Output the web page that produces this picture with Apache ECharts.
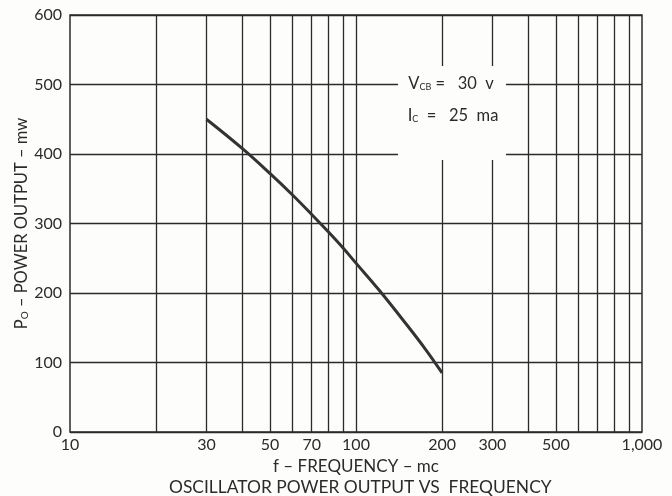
<!DOCTYPE html>
<html>
<head>
<meta charset="utf-8">
<script src="https://cdn.jsdelivr.net/npm/echarts@6/dist/echarts.min.js"></script>
<style>
html,body{margin:0;padding:0;background:#fdfdfc;}
#chart{width:672px;height:496px;}
</style>
</head>
<body>
<div id="chart"></div>
<script>
// Data
const freqMc = [30, 40, 50, 60, 70, 80, 90, 100, 120, 150, 175, 200];
const powerMw = [450, 408, 372, 341, 313, 288, 265, 243, 205, 155, 119, 85];
const gridFreqs = [20, 30, 40, 50, 60, 70, 80, 90, 100, 200, 300, 400, 500, 600, 700, 800, 900];
const labelFreqs = [10, 30, 50, 70, 100, 200, 300, 500, 1000];
const labelText = ['10', '30', '50', '70', '100', '200', '300', '500', '1,000'];

const INK = '#2b2b2b';
const BG = '#fdfdfc';
const FONT = 'Lato, "Noto Sans", sans-serif';

const chart = echarts.init(document.getElementById('chart'), null, {renderer: 'canvas'});

const markData = [];
gridFreqs.forEach(f => {
  markData.push({xAxis: f, label: {show: false}});
});
labelFreqs.forEach((f, i) => {
  markData.push({
    xAxis: f,
    lineStyle: {color: 'rgba(0,0,0,0)', width: 0},
    label: {show: true, formatter: labelText[i], color: INK}
  });
});

chart.setOption({
  backgroundColor: BG,
  animation: false,
  title: {
    text: 'OSCILLATOR POWER OUTPUT VS  FREQUENCY',
    left: 164,
    top: 474,
    textStyle: {fontFamily: FONT, fontSize: 17.4, fontWeight: 'normal', color: INK}
  },
  grid: {
    left: 70, right: 30, top: 15, bottom: 64,
    show: true, borderColor: INK, borderWidth: 1.5, backgroundColor: 'transparent'
  },
  xAxis: {
    type: 'log', logBase: 10, min: 10, max: 1000,
    name: 'f – FREQUENCY – mc',
    nameLocation: 'middle', nameGap: 26,
    nameTextStyle: {fontFamily: FONT, fontSize: 17, color: INK},
    axisLine: {show: false}, axisTick: {show: false},
    axisLabel: {show: false},
    splitLine: {show: false}, minorSplitLine: {show: false}
  },
  yAxis: {
    type: 'value', min: 0, max: 600, interval: 100,
    name: 'P{sub|O} – POWER OUTPUT – mw',
    nameLocation: 'middle', nameGap: 40, nameMoveOverlap: false,
    nameTextStyle: {
      fontFamily: FONT, fontSize: 16.5, color: INK,
      rich: {sub: {fontFamily: FONT, fontSize: 10, color: INK, verticalAlign: 'bottom', padding: [6, 0, 0, 0]}}
    },
    axisLine: {show: false}, axisTick: {show: false},
    axisLabel: {fontFamily: FONT, fontSize: 16, color: INK, margin: 8},
    splitLine: {show: true, lineStyle: {color: INK, width: 1.3}}
  },
  graphic: [
    {type: 'rect', z: 100, shape: {x: 398, y: 66, width: 108, height: 94}, style: {fill: BG}},
    {type: 'text', z: 101, x: 451, y: 84, style: {
      text: 'V{sub|CB} =   30  v', align: 'center', verticalAlign: 'middle',
      fontFamily: FONT, fontSize: 16.5, fill: INK,
      rich: {sub: {fontFamily: FONT, fontSize: 9, fill: INK, padding: [6, 0, 0, 0]}}
    }},
    {type: 'text', z: 101, x: 453, y: 116, style: {
      text: 'I{sub|C}  =   25  ma', align: 'center', verticalAlign: 'middle',
      fontFamily: FONT, fontSize: 16.5, fill: INK,
      rich: {sub: {fontFamily: FONT, fontSize: 9, fill: INK, padding: [6, 0, 0, 0]}}
    }}
  ],
  series: [
    {
      type: 'line',
      data: [],
      silent: true,
      z: 1,
      markLine: {
        silent: true,
        symbol: ['none', 'none'],
        lineStyle: {color: INK, width: 1.3, type: 'solid'},
        label: {position: 'start', distance: 5, fontFamily: FONT, fontSize: 16, color: INK},
        data: markData
      }
    },
    {
      type: 'line',
      data: freqMc.map((f, i) => [f, powerMw[i]]),
      smooth: 0.4,
      showSymbol: false,
      silent: true,
      z: 5,
      lineStyle: {color: '#333', width: 3}
    }
  ]
});
</script>
</body>
</html>
